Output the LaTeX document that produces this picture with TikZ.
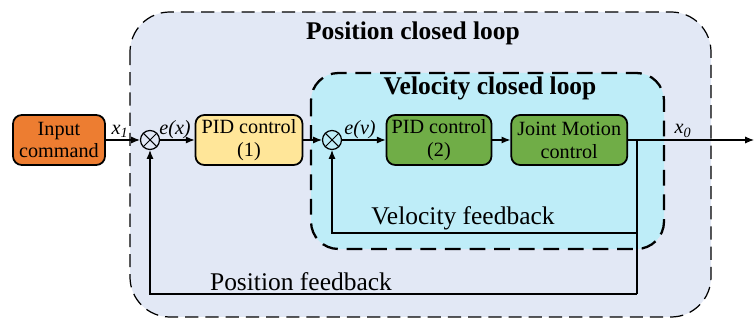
\documentclass[tikz,border=0pt]{standalone}
\usepackage{fontspec}
\setmainfont{Liberation Serif}
\usetikzlibrary{positioning,arrows.meta}
\definecolor{outerbg}{RGB}{226,232,245}
\definecolor{innerbg}{RGB}{190,237,248}
\definecolor{inputor}{RGB}{237,125,49}
\definecolor{pidyel}{RGB}{255,230,153}
\definecolor{ctrlgrn}{RGB}{112,173,71}

\begin{document}
\begin{tikzpicture}[x=0.02cm,y=-0.02cm,font=\fontsize{11.5}{13}\selectfont,
block/.style={draw, line width=1pt, rounded corners=5pt, align=center, minimum height=1.0cm, inner sep=1pt},
sumnode/.style={draw, circle, line width=0.7pt, minimum size=0.38cm, inner sep=0pt,
  path picture={\draw[line width=0.6pt] (path picture bounding box.south west) -- (path picture bounding box.north east)
  (path picture bounding box.north west) -- (path picture bounding box.south east);}},
sig/.style={line width=0.6pt, -{Latex[length=5pt,width=4pt]}},
fb/.style={line width=0.6pt},
siglabel/.style={font=\fontsize{11.5}{13}\selectfont\itshape},
looptitle/.style={font=\fontsize{14.5}{16}\selectfont\bfseries},
fblabel/.style={font=\fontsize{14.5}{16}\selectfont}]
\useasboundingbox (0,0) rectangle (754,320);

% loop regions
\draw[fill=outerbg, line width=0.7pt, dash pattern=on 7.5pt off 4pt, rounded corners=0.8cm] (130,12) rectangle (711,317);
\draw[fill=innerbg, line width=1.3pt, dash pattern=on 9pt off 5pt, rounded corners=0.55cm] (311,73) rectangle (664,249);
\node[looptitle] (postitle) at (413,33) {Position closed loop};
\node[looptitle] (veltitle) at (490,88) {Velocity closed loop};

% blocks
\node[block, fill=inputor, minimum width=1.84cm] (input) at (59,140) {Input\\command};
\node[sumnode] (sumx) at (150,140) {};
\node[block, fill=pidyel, minimum width=2.14cm] (pidx) at (249,140) {PID control\\(1)};
\node[sumnode] (sumv) at (332,140) {};
\node[block, fill=ctrlgrn, minimum width=2.1cm] (pidv) at (439,140) {PID control\\(2)};
\node[block, fill=ctrlgrn, minimum width=2.32cm, right=0.36cm of pidv] (joint) {Joint Motion\\control};
\coordinate (branch) at (637,140);
\coordinate (output) at (754,140);
\coordinate (velcorner) at (637,233);
\coordinate (poscorner) at (637,294);

% forward path
\draw[sig] (input) -- (sumx);
\draw[sig] (sumx) -- (pidx);
\draw[sig] (pidx) -- (sumv);
\draw[sig] (sumv) -- (pidv);
\draw[sig] (pidv) -- (joint);
\draw[sig] (joint) -- (output);

% feedback paths
\draw[fb] (branch) -- (velcorner) -- (poscorner);
\draw[sig] (velcorner) -| (sumv.south);
\draw[sig] (poscorner) -| (sumx.south);

% labels
\node[siglabel] (xin) at (120,131) {x\textsubscript{1}};
\node[siglabel] (ex) at (175,130) {e(x)};
\node[siglabel] (ev) at (360,130) {e(v)};
\node[siglabel] (xout) at (683,131) {x\textsubscript{0}};
\node[fblabel] (velfb) at (463,218) {Velocity feedback};
\node[fblabel] (posfb) at (301,282) {Position feedback};
\end{tikzpicture}
\end{document}
